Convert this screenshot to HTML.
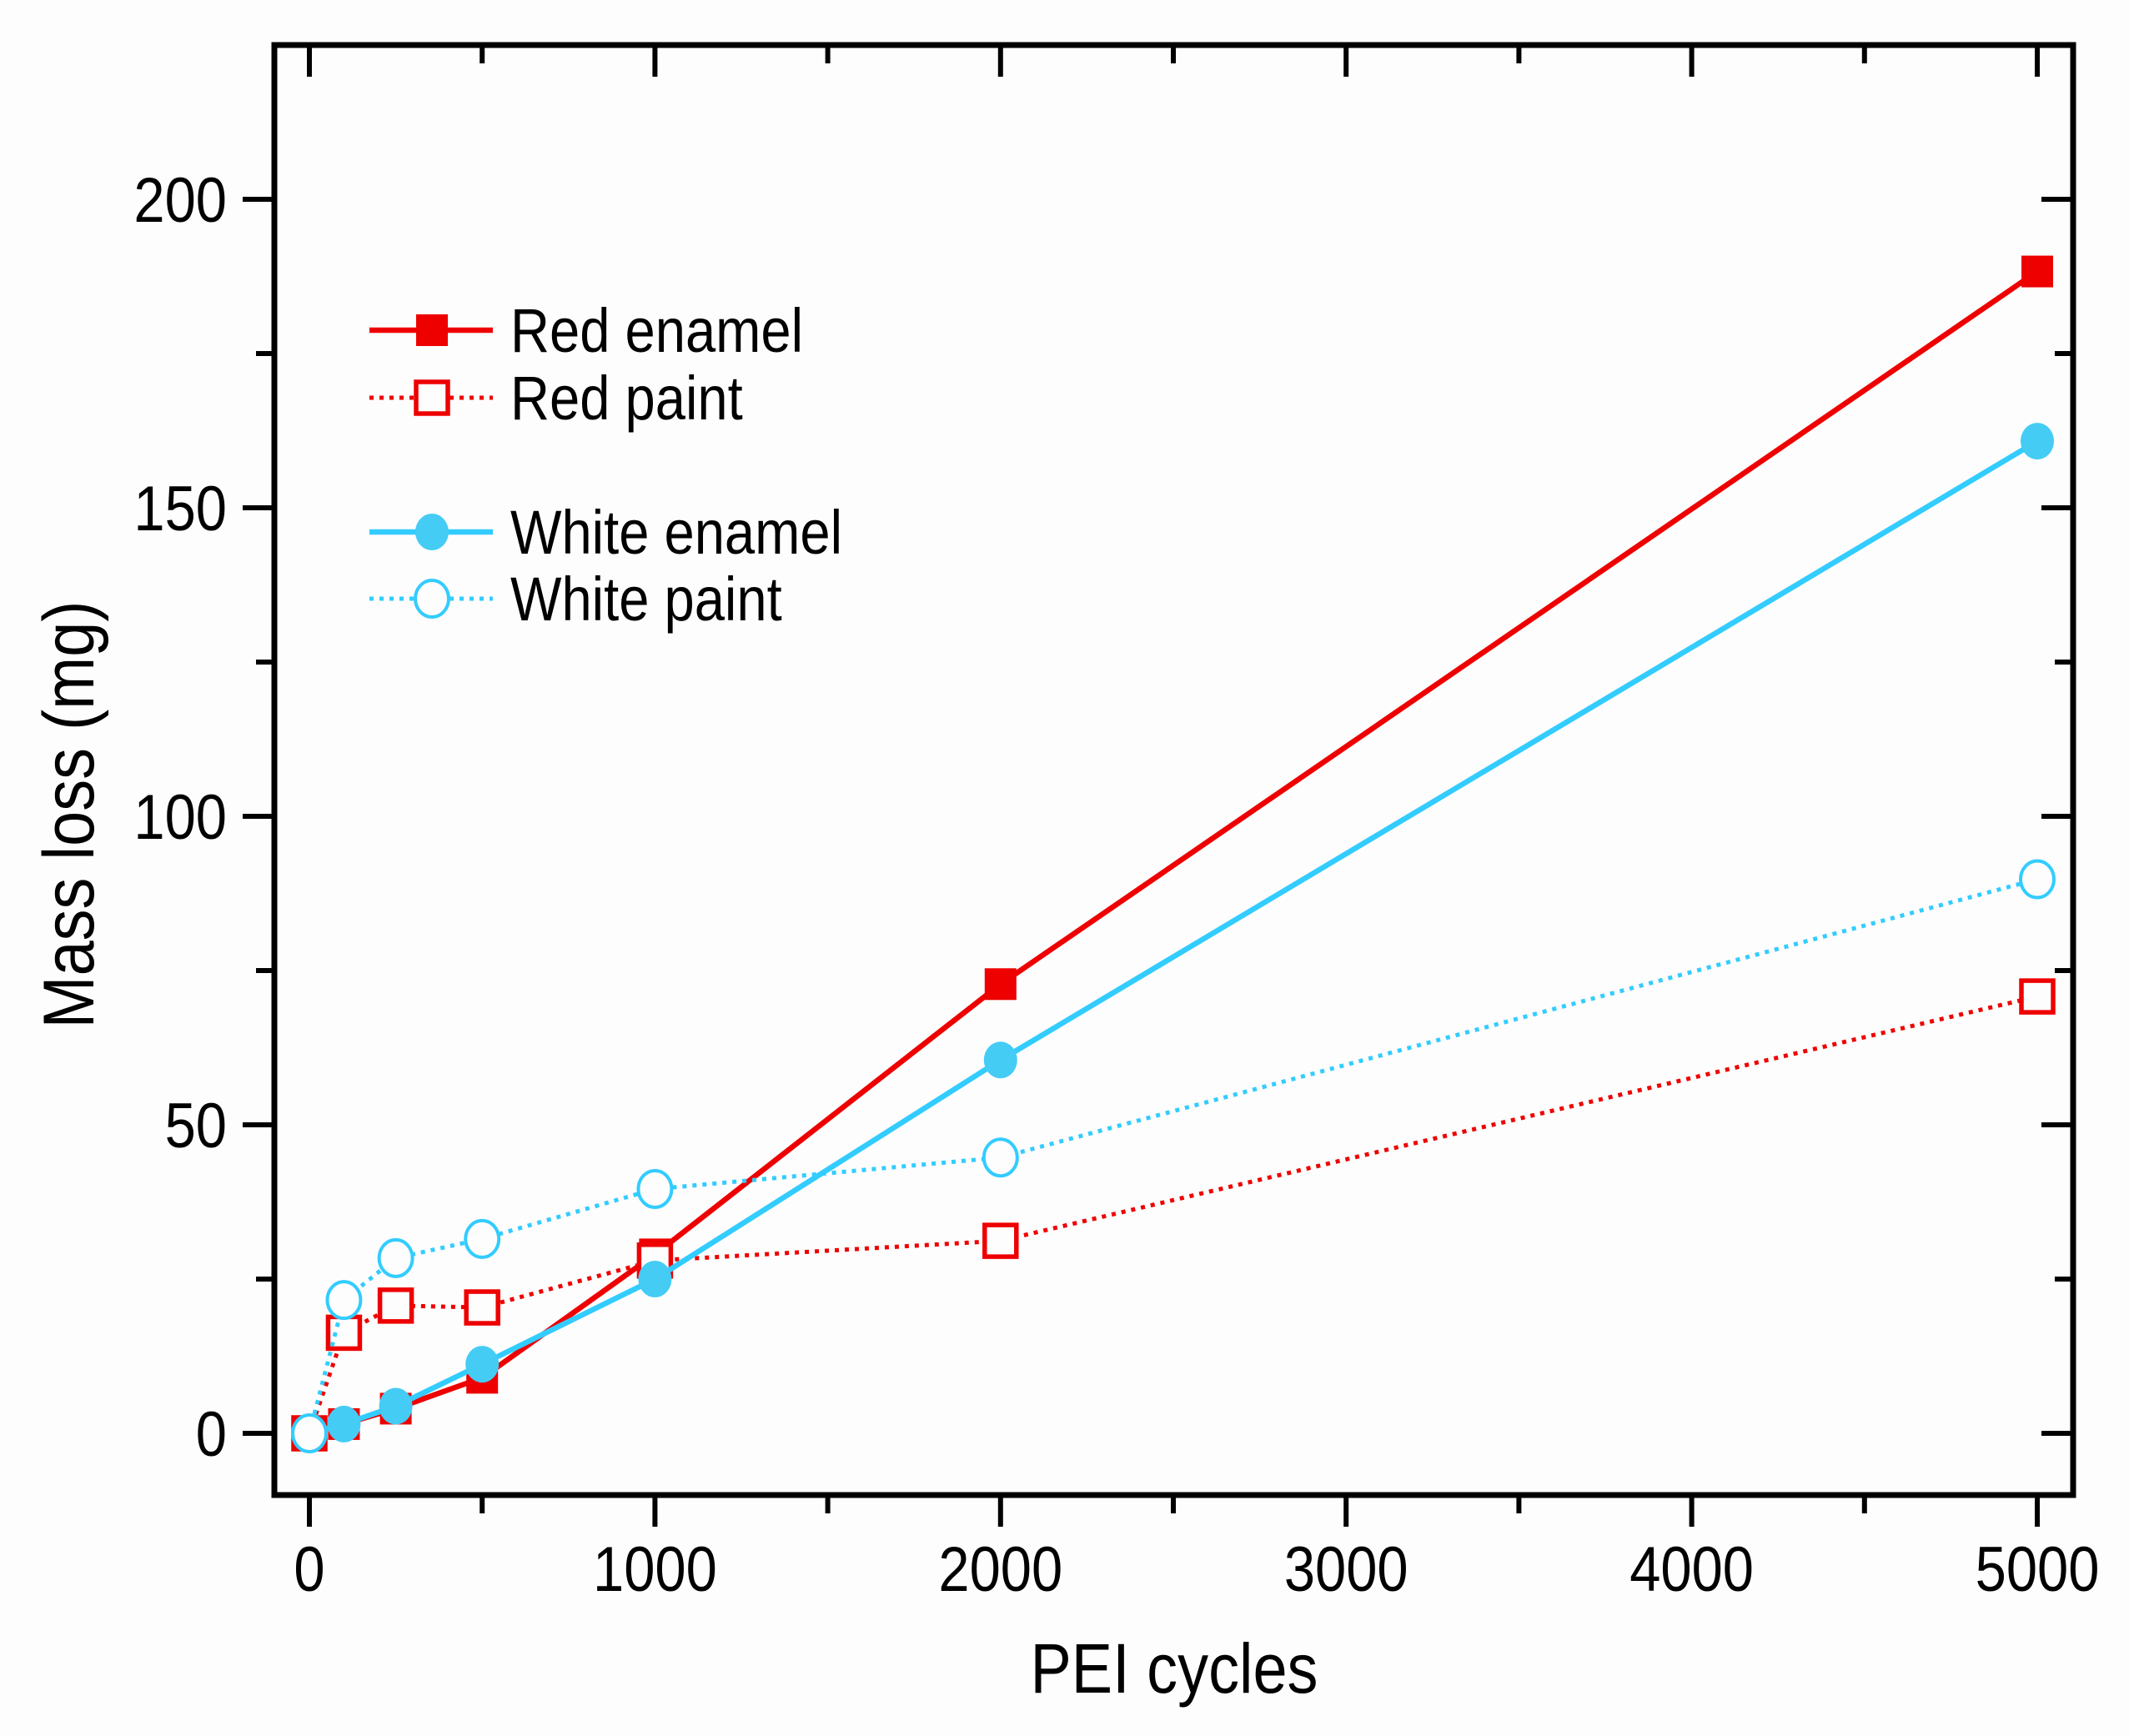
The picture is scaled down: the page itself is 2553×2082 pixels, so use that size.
<!DOCTYPE html>
<html><head><meta charset="utf-8">
<style>
html,body{margin:0;padding:0;background:#fdfdfd;}
svg{display:block;}
text{font-family:"Liberation Sans",Arial,sans-serif;fill:#000;}
</style></head>
<body>
<svg id="chart" width="2553" height="2082" viewBox="0 0 2553 2082" xmlns="http://www.w3.org/2000/svg">
<rect x="0" y="0" width="2553" height="2082" fill="#fdfdfd"/>
<g id="series"></g>
<g id="axes"></g>
<g id="legend"></g>
</svg>
<script>
const xValues = [0, 100, 250, 500, 1000, 2000, 5000];
const redEnamel = [0, 1.5, 4, 9, 29, 72.8, 188.3];
const whiteEnamel = [0, 1.5, 4.4, 11.2, 25, 60.5, 160.8];
const redPaint = [0, 16.3, 20.7, 20.4, 28, 31.2, 70.8];
const whitePaint = [0, 21.6, 28.4, 31.5, 39.6, 44.7, 89.8];
const xTicks = [0, 1000, 2000, 3000, 4000, 5000];
const yTicks = [0, 50, 100, 150, 200];

const NS = "http://www.w3.org/2000/svg";
const L = 329, R = 2486, T = 54, B = 1793;
const SX = 0.88;
function xs(v){ return 371 + v * (2443 - 371) / 5000; }
function ys(v){ return 1719 - v * (1719 - 239) / 200; }
function mk(tag, attrs, parent){
  const e = document.createElementNS(NS, tag);
  for (const k in attrs) e.setAttribute(k, attrs[k]);
  parent.appendChild(e);
  return e;
}
function txt(str, x, y, size, anchor, parent, rot){
  const tr = "translate(" + x + "," + y + ")" + (rot ? " rotate(-90)" : "") + " scale(" + SX + ",1)";
  const t = mk("text", {x:0, y:0, "text-anchor":anchor, "font-size":size, transform:tr}, parent);
  t.textContent = str;
  return t;
}
const RED = "#ee0000", CYAN = "#33ccff", CYANF = "#44ccf5";
const axes = document.getElementById("axes");
const series = document.getElementById("series");
const legend = document.getElementById("legend");

const frame = mk("rect", {x:L, y:T, width:R-L, height:B-T, fill:"none", stroke:"#000", "stroke-width":7}, axes);



for (let v = 0; v <= 5000; v += 500) {
  const x = xs(v), major = v % 1000 === 0;
  const len = major ? 38 : 22;
  const t1 = mk("line", {x1:x, y1:B, x2:x, y2:B+len, stroke:"#000", "stroke-width":6}, axes);
  
  
  const t2 = mk("line", {x1:x, y1:T, x2:x, y2:T+len, stroke:"#000", "stroke-width":6}, axes);
  
  
}
xTicks.forEach(v => {
  const t = txt(String(v), xs(v), 1908, 76, "middle", axes, false);
  
  
});
for (let v = 0; v <= 225; v += 25) {
  const y = ys(v), major = v % 50 === 0;
  const len = major ? 38 : 22;
  if (y < T + 2) continue;
  const t1 = mk("line", {x1:L-len, y1:y, x2:L, y2:y, stroke:"#000", "stroke-width":6}, axes);
  
  
  const t2 = mk("line", {x1:R-len, y1:y, x2:R, y2:y, stroke:"#000", "stroke-width":6}, axes);
  
  
}
yTicks.forEach(v => {
  const t = txt(String(v), 272, ys(v)+27, 76, "end", axes, false);
  
  
});
const xt = txt("PEI cycles", 1408, 2030, 84, "middle", axes, false);


const yt = txt("Mass loss (mg)", 112, 977, 86, "middle", axes, true);



function marker(kind, cx, cy, color, fill, parent){
  let e;
  if (kind === "square") {
    e = mk("rect", {x:cx-19, y:cy-19, width:38, height:38, fill: fill ? color : "#fdfdfd", stroke:color, "stroke-width": fill ? 0 : 5.5}, parent);
  } else {
    e = mk("ellipse", {cx:cx, cy:cy, rx:20, ry:22, fill: fill ? CYANF : "#fdfdfd", stroke:color, "stroke-width": fill ? 0 : 4}, parent);
  }
  return e;
}
function drawSeries(vals, name, color, dotted, kind, fill){
  const g = mk("g", {}, series);
  
  
  const pts = vals.map((v,i) => xs(xValues[i]) + "," + ys(v)).join(" ");
  const pl = mk("polyline", {points:pts, fill:"none", stroke:color, "stroke-width": dotted ? 5 : 6.5, "stroke-dasharray": dotted ? "5 7" : "none"}, g);
  
  
  vals.forEach((v,i) => {
    const m = marker(kind, xs(xValues[i]), ys(v), color, fill, g);
    
    
  });
}
drawSeries(redEnamel, "red-enamel", RED, false, "square", true);
drawSeries(redPaint, "red-paint", RED, true, "square", false);
drawSeries(whiteEnamel, "white-enamel", CYAN, false, "circle", true);
drawSeries(whitePaint, "white-paint", CYAN, true, "circle", false);

const legItems = [
  ["Red enamel", RED, false, "square", true, 396],
  ["Red paint", RED, true, "square", false, 477],
  ["White enamel", CYAN, false, "circle", true, 638],
  ["White paint", CYAN, true, "circle", false, 718]
];
legItems.forEach(it => {
  const g = mk("g", {}, legend);
  
  
  const y = it[5];
  mk("line", {x1:443, y1:y, x2:591, y2:y, stroke:it[1], "stroke-width": it[2] ? 5 : 6.5, "stroke-dasharray": it[2] ? "5 7" : "none"}, g);
  marker(it[3], 518, y, it[1], it[4], g);
  txt(it[0], 612, y+26, 74, "start", g, false);
});
</script>
</body></html>
